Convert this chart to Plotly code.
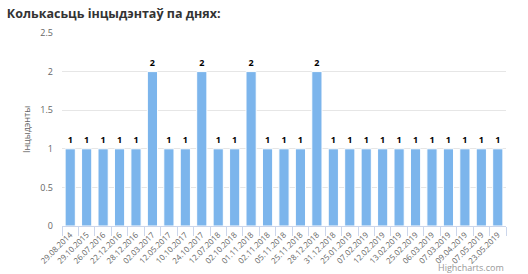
import plotly.graph_objects as go

dates = ["29.08.2014", "29.10.2015", "26.07.2016", "22.12.2016", "28.12.2016",
         "02.03.2017", "12.05.2017", "10.10.2017", "24.10.2017", "12.07.2018",
         "02.10.2018", "01.11.2018", "02.11.2018", "05.11.2018", "25.11.2018",
         "28.12.2018", "31.12.2018", "25.01.2019", "07.02.2019", "12.02.2019",
         "13.02.2019", "25.02.2019", "06.03.2019", "07.03.2019", "09.04.2019",
         "07.05.2019", "23.05.2019"]
counts = [1, 1, 1, 1, 1, 2, 1, 1, 2, 1, 1, 2, 1, 1, 1, 2, 1, 1, 1, 1, 1, 1, 1, 1, 1, 1, 1]
y_ticks = [0, 0.5, 1, 1.5, 2, 2.5]

font = "Open Sans, Lato, sans-serif"

fig = go.Figure(go.Bar(
    x=dates, y=counts,
    marker=dict(color="#7cb5ec", line=dict(color="#ffffff", width=1)),
    text=counts, textposition="outside", cliponaxis=False,
    textfont=dict(family=font, size=9, color="#000000", weight="bold"),
    width=0.62,
))

fig.update_layout(
    width=528, height=274,
    margin=dict(l=62, r=22, t=33, b=48),
    paper_bgcolor="white", plot_bgcolor="white",
    showlegend=False,
    title=dict(text="<b>Колькасьць інцыдэнтаў па днях:</b>", x=0.013, xanchor="left",
               y=0.965, yanchor="top",
               font=dict(family=font, size=12.5, color="#333333")),
    xaxis=dict(
        type="category", tickangle=-45, tickson="boundaries", automargin=False,
        ticks="outside", ticklen=9, tickcolor="#ccd6eb", tickwidth=1,
        showline=True, linecolor="#ccd6eb", linewidth=1,
        showgrid=False,
        tickfont=dict(family=font, size=8, color="#666666"),
    ),
    yaxis=dict(
        range=[0, 2.5], tickvals=y_ticks, ticktext=["0", "0.5", "1", "1.5", "2", "2.5"],
        showgrid=True, gridcolor="#e6e6e6", gridwidth=1, zeroline=False, automargin=False,
        tickfont=dict(family=font, size=9, color="#666666"),
        ticks="", ticklabelstandoff=8,
        title=dict(text="Інцыдэнты", font=dict(family=font, size=9, color="#666666"), standoff=8),
    ),
    annotations=[dict(text="Highcharts.com", xref="paper", yref="paper",
                      x=1.0, y=0, xanchor="right", yanchor="top", yshift=-33, showarrow=False,
                      font=dict(family=font, size=9, color="#999999"))],
)

fig.write_html("out.html")
